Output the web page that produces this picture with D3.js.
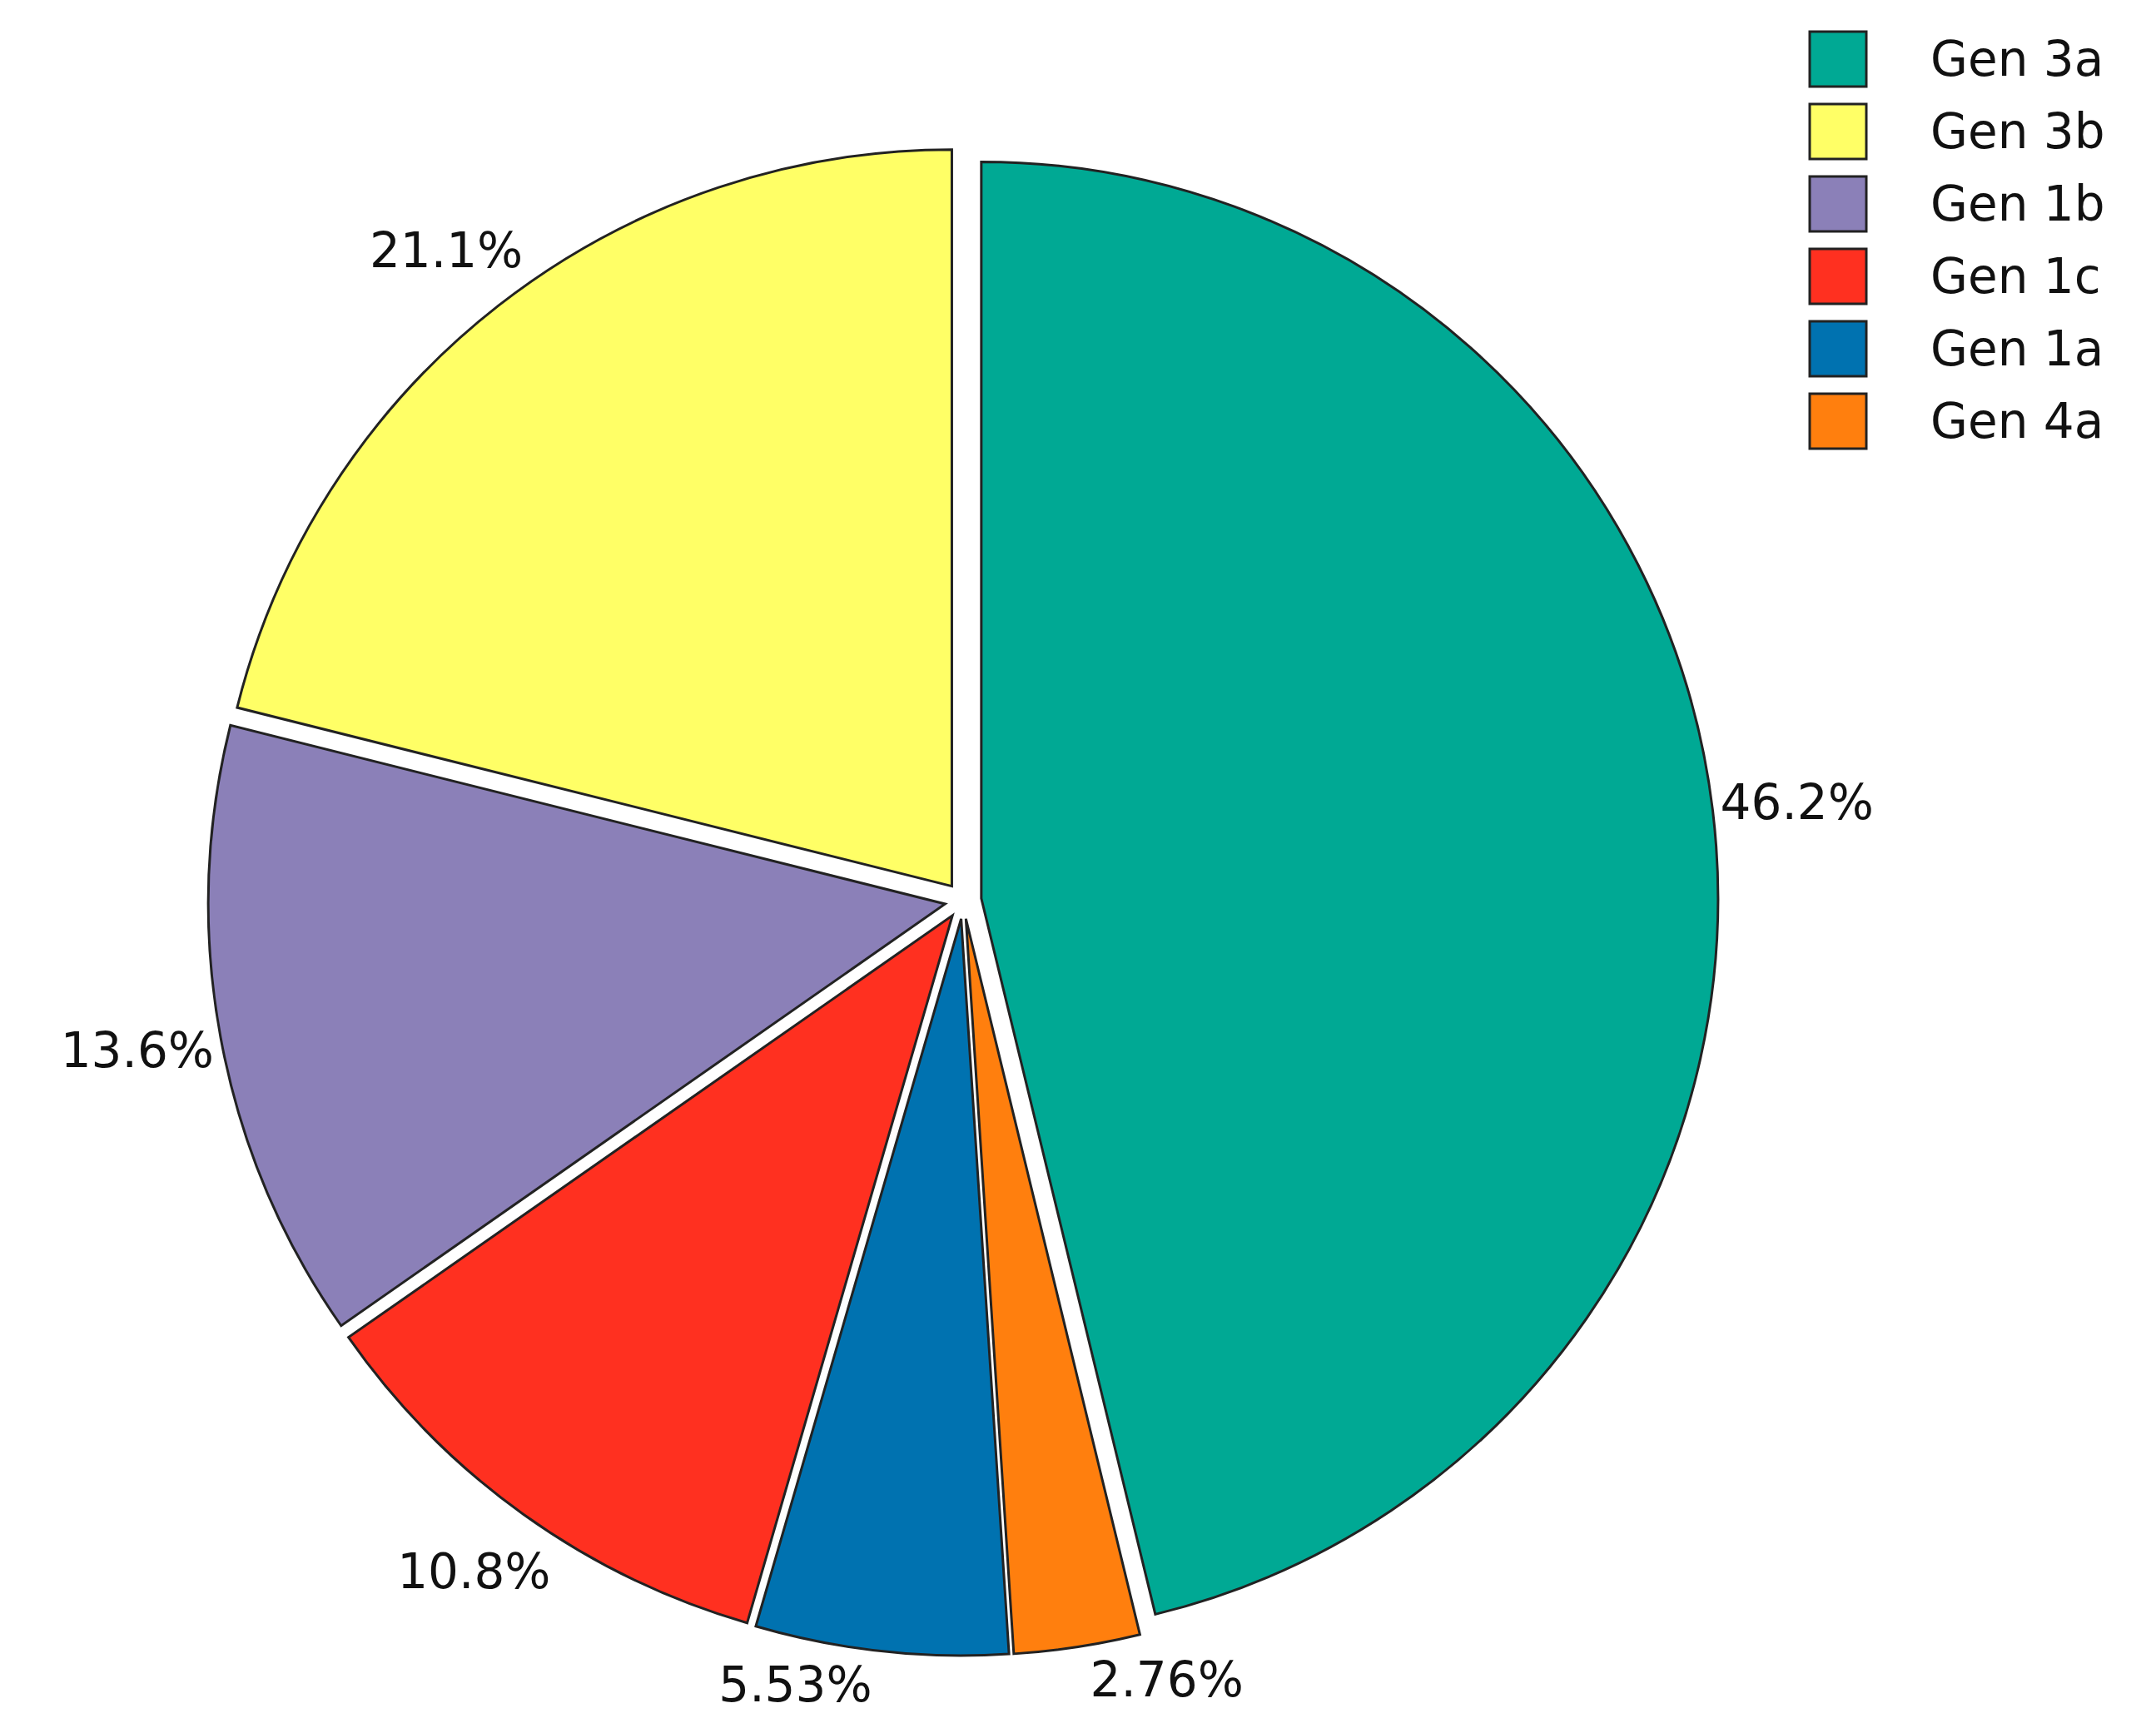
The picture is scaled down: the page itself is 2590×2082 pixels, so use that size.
<!DOCTYPE html>
<html lang="en">
<head>
  <meta charset="UTF-8">
  <title>Genotype pie</title>
  <script src="https://d3js.org/d3.v7.min.js"></script>
  <style>body{margin:0;background:#fff}</style>
</head>
<body>
<script>
  // data, clockwise from 12 o'clock
  const genotypes = ["Gen 3a", "Gen 4a", "Gen 1a", "Gen 1c", "Gen 1b", "Gen 3b"];
  const shares = [46.2, 2.76, 5.53, 10.8, 13.6, 21.1];
  const labels = ["46.2%", "2.76%", "5.53%", "10.8%", "13.6%", "21.1%"];
  const colours = ["#00a994", "#ff7f0e", "#0072b0", "#ff3020", "#8b80b8", "#ffff66"];
  // legend order
  const legendOrder = ["Gen 3a", "Gen 3b", "Gen 1b", "Gen 1c", "Gen 1a", "Gen 4a"];

  const width = 2590, height = 2082;
  const cx = 1157, cy = 1082, r = 885, explode = 22;

  const svg = d3.select("body").append("svg")
    .attr("width", width).attr("height", height);

  const colour = d3.scaleOrdinal().domain(genotypes).range(colours);
  const data = genotypes.map((g, i) => ({ g, v: shares[i], label: labels[i] }));

  const pie = d3.pie().value(d => d.v).sort(null);
  const arc = d3.arc().innerRadius(0).outerRadius(r);
  const arcs = pie(data);
  const mid = d => (d.startAngle + d.endAngle) / 2;

  const g = svg.append("g").attr("transform", `translate(${cx},${cy})`);

  g.selectAll("path")
    .data(arcs)
    .enter()
    .append("path")
    .attr("transform", d => `translate(${Math.sin(mid(d)) * explode},${-Math.cos(mid(d)) * explode})`)
    .attr("d", arc)
    .attr("fill", d => colour(d.data.g))
    .attr("stroke", "#222")
    .attr("stroke-width", 3);

  // bottom labels sit closer and hang off to the side
  const bottom = d => -Math.cos(mid(d)) > 0.95;

  g.selectAll("text.lbl")
    .data(arcs)
    .enter()
    .append("text")
    .attr("class", "lbl")
    .attr("x", d => Math.sin(mid(d)) * r * 1.14)
    .attr("y", d => -Math.cos(mid(d)) * r * (bottom(d) ? 1.07 : 1.12))
    .attr("dy", "0.35em")
    .attr("text-anchor", d => bottom(d) ? (Math.sin(mid(d)) < 0 ? "end" : "start") : "middle")
    .style("font-family", "Verdana, 'DejaVu Sans', sans-serif")
    .style("font-size", "58px")
    .attr("fill", "#111")
    .text(d => d.data.label);

  // legend
  const leg = svg.append("g").attr("transform", "translate(2174,38)");
  const item = leg.selectAll("g")
    .data(legendOrder)
    .enter()
    .append("g")
    .attr("transform", (d, i) => `translate(0,${i * 87})`);
  item.append("rect")
    .attr("width", 68).attr("height", 66)
    .attr("fill", d => colour(d))
    .attr("stroke", "#222").attr("stroke-width", 3);
  item.append("text")
    .attr("x", 145).attr("y", 33).attr("dy", "0.35em")
    .style("font-family", "Verdana, 'DejaVu Sans', sans-serif")
    .style("font-size", "58px")
    .attr("fill", "#111")
    .text(d => d);
</script>
</body>
</html>
